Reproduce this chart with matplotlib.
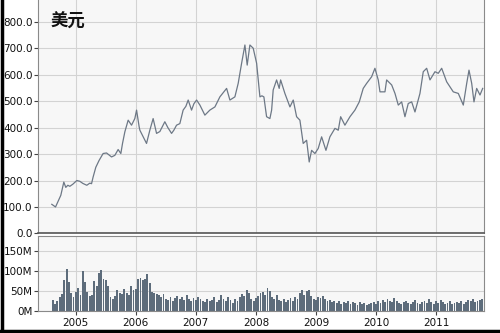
import numpy as np
import matplotlib
matplotlib.use("Agg")
import matplotlib.pyplot as plt
from matplotlib.lines import Line2D
from matplotlib.ticker import FuncFormatter

# ---------------- data ----------------
price_dates = [
    2004.600, 2004.662, 2004.750, 2004.800, 2004.833, 2004.867, 2004.900, 2004.950,
    2005.017, 2005.067, 2005.117, 2005.183, 2005.233, 2005.262, 2005.288, 2005.333,
    2005.388, 2005.455, 2005.512, 2005.595, 2005.650, 2005.705, 2005.750, 2005.778,
    2005.817, 2005.872, 2005.928, 2005.983, 2006.012, 2006.055, 2006.067, 2006.122,
    2006.178, 2006.233, 2006.288, 2006.345, 2006.400, 2006.483, 2006.533, 2006.595,
    2006.633, 2006.678, 2006.733, 2006.788, 2006.833, 2006.872, 2006.928, 2006.967,
    2007.012, 2007.067, 2007.100, 2007.150, 2007.233, 2007.317, 2007.400, 2007.450,
    2007.512, 2007.567, 2007.650, 2007.705, 2007.762, 2007.817, 2007.855, 2007.900,
    2007.955, 2008.012, 2008.067, 2008.100, 2008.133, 2008.178, 2008.233, 2008.262,
    2008.288, 2008.345, 2008.388, 2008.412, 2008.483, 2008.567, 2008.622, 2008.678,
    2008.733, 2008.788, 2008.845, 2008.888, 2008.928, 2008.983, 2009.038, 2009.095,
    2009.167, 2009.233, 2009.317, 2009.372, 2009.412, 2009.483, 2009.567, 2009.650,
    2009.722, 2009.788, 2009.845, 2009.928, 2009.983, 2010.038, 2010.067, 2010.150,
    2010.178, 2010.262, 2010.317, 2010.372, 2010.428, 2010.483, 2010.538, 2010.595,
    2010.650, 2010.733, 2010.788, 2010.845, 2010.900, 2010.983, 2011.038, 2011.095,
    2011.178, 2011.288, 2011.372, 2011.455, 2011.512, 2011.550, 2011.595, 2011.633,
    2011.678, 2011.733, 2011.778,
]
prices = [
    110, 100, 144, 194, 174, 182, 178, 186,
    200, 197, 189, 182, 190, 188, 213, 250,
    276, 302, 304, 289, 295, 317, 302, 340,
    384, 428, 409, 434, 466, 403, 390, 365,
    340, 390, 434, 378, 385, 422, 400, 378,
    390, 409, 415, 466, 480, 504, 466, 490,
    504, 485, 470, 447, 466, 478, 516, 530,
    548, 504, 516, 567, 643, 712, 636, 712,
    700, 643, 516, 520, 516, 441, 434, 466,
    542, 580, 548, 580, 529, 478, 504, 441,
    428, 340, 352, 270, 314, 302, 321, 365,
    314, 365, 397, 390, 441, 409, 441, 466,
    497, 548, 567, 592, 624, 580, 535, 535,
    580, 561, 529, 485, 497, 441, 491, 497,
    459, 529, 611, 624, 580, 611, 605, 624,
    573, 535, 529, 485, 567, 617, 567, 497,
    548, 523, 548,
]

volume_start = 2004.60   # first bi-weekly bar
volumes_m = [
    28, 18, 25, 35, 42, 78, 104, 72, 45, 35, 48, 58, 40,
    100, 72, 48, 38, 40, 75, 62, 95, 102, 80, 78, 62, 35,
    30, 38, 52, 45, 42, 55, 45, 40, 62, 52, 55, 80, 82,
    78, 80, 92, 70, 48, 45, 42, 40, 35, 42, 30, 28, 36,
    25, 32, 38, 30, 35, 28, 40, 30, 25, 32, 28, 35, 30,
    26, 22, 30, 25, 28, 35, 22, 28, 40, 30, 25, 35, 28,
    20, 30, 25, 35, 42, 38, 52, 45, 30, 25, 32, 38, 45,
    48, 40, 57, 50, 35, 30, 40, 28, 25, 30, 22, 28, 32,
    25, 35, 30, 45, 52, 40, 50, 52, 38, 30, 28, 35, 32,
    38, 30, 25, 28, 22, 25, 20, 24, 18, 22, 20, 25, 18,
    22, 20, 16, 22, 18, 20, 15, 18, 20, 22, 18, 25, 20,
    28, 22, 30, 25, 22, 32, 25, 20, 18, 22, 25, 20, 18,
    22, 28, 20, 18, 22, 25, 20, 30, 22, 18, 25, 20, 28,
    22, 18, 20, 25, 18, 20, 22, 20, 25, 18, 22, 28, 25,
    30, 22, 25, 28, 30, 25,
]

years = [2005, 2006, 2007, 2008, 2009, 2010, 2011]
year_labels = ["2005", "2006", "2007", "2008", "2009", "2010", "2011"]
price_ticks = [0, 100, 200, 300, 400, 500, 600, 700, 800]
vol_ticks = [0, 50, 100, 150]

# ---------------- style ----------------
plt.rcParams['font.family'] = ['DejaVu Sans', 'Noto Sans CJK SC']
LINE_C = "#6d7886"
BAR_C = "#5d6c7b"
GRID_C = "#d3d3d3"
BG_C = "#f7f7f7"
SPINE_C = "#8a8a8a"
XMIN, XMAX = 2004.37, 2011.8

fig = plt.figure(figsize=(5.0, 3.33), dpi=100)
fig.patch.set_facecolor("white")

ax = fig.add_axes([0.076, 0.299, 0.892, 0.701])
axv = fig.add_axes([0.076, 0.066, 0.892, 0.225])

for a in (ax, axv):
    a.set_facecolor(BG_C)
    a.set_xlim(XMIN, XMAX)
    a.set_xticks(years)
    a.grid(True, color=GRID_C, linewidth=0.8)
    a.set_axisbelow(True)
    for s in a.spines.values():
        s.set_color(SPINE_C)
        s.set_linewidth(0.8)
    a.tick_params(axis='y', length=3, width=0.8, color="#444444",
                  labelsize=7.5, pad=1, labelcolor="#111111")
    a.tick_params(axis='x', length=3, width=0.8, color="#444444",
                  labelsize=7.5, pad=2, labelcolor="#111111")

# price panel
ax.plot(price_dates, prices, color=LINE_C, linewidth=0.9)
ax.set_ylim(0, 882)
ax.set_yticks(price_ticks)
ax.yaxis.set_major_formatter(FuncFormatter(lambda v, p: f"{v:.1f}"))
ax.tick_params(axis='x', labelbottom=False, length=0)
ax.spines['top'].set_visible(False)
ax.spines['bottom'].set_color("#555555")
ax.spines['bottom'].set_linewidth(1.2)
ax.text(0.027, 0.905, "美元", transform=ax.transAxes, fontsize=12.5,
        fontweight='bold', family=['Noto Sans CJK SC', 'DejaVu Sans'],
        va='center', ha='left', color="#111111")

# volume panel
vol_dates = volume_start + np.arange(len(volumes_m)) / 26.0
axv.bar(vol_dates, volumes_m, width=1 / 26.0 * 0.8, color=BAR_C,
        align='edge', linewidth=0)
axv.set_ylim(0, 187)
axv.set_yticks(vol_ticks)
axv.yaxis.set_major_formatter(FuncFormatter(lambda v, p: f"{int(v)}M"))
axv.set_xticklabels(year_labels)

# outer dark frame on left and bottom
fig.add_artist(Line2D([0.003, 0.003], [0, 1], color="black", linewidth=2.5,
                      transform=fig.transFigure))
fig.add_artist(Line2D([0, 1], [0.006, 0.006], color="black", linewidth=2.5,
                      transform=fig.transFigure))

fig.savefig("out.png", dpi=100, facecolor="white")
